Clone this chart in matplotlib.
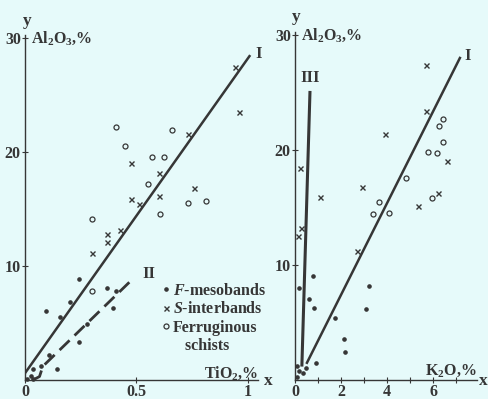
import numpy as np
import matplotlib
matplotlib.use('Agg')
from matplotlib import pyplot as plt
from matplotlib.lines import Line2D

plt.rcParams['font.family'] = 'Liberation Serif'
plt.rcParams['font.weight'] = 'bold'
plt.rcParams['mathtext.fontset'] = 'custom'
plt.rcParams['mathtext.rm'] = 'Liberation Serif:bold'
plt.rcParams['mathtext.it'] = 'Liberation Serif:italic:bold'
plt.rcParams['mathtext.bf'] = 'Liberation Serif:bold'

# --- left panel: TiO2 vs Al2O3 ---
ti_f_x = [0.008, 0.026, 0.035, 0.035, 0.072, 0.094, 0.108, 0.142, 0.157, 0.20, 0.24, 0.24, 0.28, 0.37, 0.395, 0.41]
ti_f_y = [0.1, 0.35, 0.1, 1.0, 1.2, 6.05, 2.2, 1.0, 5.5, 6.8, 8.9, 3.3, 4.9, 8.1, 6.3, 7.8]
ti_s_x = [0.30, 0.37, 0.37, 0.425, 0.475, 0.475, 0.51, 0.60, 0.60, 0.73, 0.76, 0.94, 0.96]
ti_s_y = [11.1, 12.1, 12.8, 13.2, 19.0, 15.9, 15.4, 18.2, 16.1, 21.6, 16.8, 27.5, 23.5]
ti_c_x = [0.30, 0.30, 0.41, 0.45, 0.55, 0.57, 0.605, 0.625, 0.66, 0.73, 0.81]
ti_c_y = [14.1, 7.8, 22.2, 20.5, 17.2, 19.6, 14.6, 19.6, 21.9, 15.5, 15.7]
line1_ti_x = [0.0, 1.01]
line1_ti_y = [0.6, 28.5]
line2_ti_x = [0.035, 0.065, 0.08, 0.485]
line2_ti_y = [0.0, 0.3, 1.2, 8.9]

# --- right panel: K2O vs Al2O3 ---
k_f_x = [0.1, 0.18, 0.1, 0.35, 0.48, 0.9, 0.17, 0.6, 0.78, 0.83, 1.74, 2.13, 2.17, 3.08, 3.2]
k_f_y = [1.2, 0.8, 0.3, 0.6, 1.0, 1.5, 8.0, 7.0, 9.0, 6.3, 5.4, 3.6, 2.4, 6.2, 8.2]
k_s_x = [0.15, 0.26, 0.22, 1.09, 2.7, 2.9, 3.9, 5.35, 5.7, 5.7, 6.2, 6.6]
k_s_y = [12.5, 13.2, 18.4, 15.9, 11.2, 16.8, 21.4, 15.1, 23.4, 27.4, 16.3, 19.0]
k_c_x = [3.4, 3.65, 4.1, 4.83, 5.78, 5.96, 6.17, 6.26, 6.43, 6.43]
k_c_y = [14.4, 15.5, 14.5, 17.6, 19.8, 15.8, 19.7, 22.1, 20.7, 22.7]
line1_k_x = [0.52, 7.17]
line1_k_y = [1.5, 28.0]
line3_k_x = [0.3, 0.65]
line3_k_y = [1.3, 25.0]

legend_labels = ['$F$-mesobands', '$S$-interbands', 'Ferruginous', '   schists']

bg = '#e6fafa'
ink = '#363636'
fs = 11.5

fig = plt.figure(figsize=(4.89, 3.99), dpi=100, facecolor=bg)
ax1 = fig.add_axes([25 / 489, 19 / 399, 233 / 489, 345.4 / 399])
ax2 = fig.add_axes([295 / 489, 19 / 399, 181.7 / 489, 348.5 / 399])


def style(ax):
    ax.set_facecolor(bg)
    for s in ['top', 'right']:
        ax.spines[s].set_visible(False)
    for s in ['left', 'bottom']:
        ax.spines[s].set_color(ink)
        ax.spines[s].set_linewidth(1.0)
    ax.tick_params(direction='inout', length=4, width=0.8, colors=ink,
                   labelsize=fs, pad=1)
    for lab in ax.get_xticklabels() + ax.get_yticklabels():
        lab.set_fontweight('bold')


def points(ax, fx, fy, sx, sy, cx, cy):
    ax.plot(fx, fy, 'o', ms=2.3, color=ink, clip_on=False)
    ax.plot(sx, sy, 'x', ms=3.6, mew=1.0, color=ink, clip_on=False)
    ax.plot(cx, cy, 'o', ms=3.6, mew=0.9, mfc='none', mec=ink, clip_on=False)


# left
points(ax1, ti_f_x, ti_f_y, ti_s_x, ti_s_y, ti_c_x, ti_c_y)
ax1.plot(line1_ti_x, line1_ti_y, color=ink, lw=1.8, solid_capstyle='butt')
ax1.plot(line2_ti_x, line2_ti_y, color=ink, lw=2.0, dashes=(5, 2.5))
ax1.set_xlim(0, 1.045)
ax1.set_ylim(0, 30.3)
ax1.set_xticks([0, 0.5, 1])
ax1.set_xticklabels(['0', '0.5', '1'])
ax1.set_yticks([10, 20, 30])
style(ax1)
ax1.text(0.01, 31.5, 'y', ha='center', va='center', fontsize=12.5, color=ink, clip_on=False)
ax1.text(0.027, 30.0, 'Al$_2$O$_3$,%', ha='left', va='center', fontsize=fs, color=ink)
ax1.text(1.035, 28.6, 'I', ha='left', va='center', fontsize=12, color=ink, clip_on=False)
ax1.text(0.525, 9.3, 'II', ha='left', va='center', fontsize=12, color=ink)
ax1.text(1.045, 0.6, 'TiO$_2$,%', ha='right', va='center', fontsize=fs, color=ink, clip_on=False)
ax1.text(1.09, -0.1, 'x', ha='center', va='center', fontsize=12.5, color=ink, clip_on=False)

handles = [Line2D([], [], ls='none', marker='o', ms=2.3, color=ink),
           Line2D([], [], ls='none', marker='x', ms=3.6, mew=1.0, color=ink),
           Line2D([], [], ls='none', marker='o', ms=3.6, mew=0.9, mfc='none', mec=ink),
           Line2D([], [], ls='none', marker='none')]
leg = ax1.legend(handles, legend_labels, loc='upper left', bbox_to_anchor=(0.59, 0.281),
                 frameon=False, fontsize=fs, handlelength=0.4, handletextpad=0.25,
                 labelspacing=0.15, borderpad=0, borderaxespad=0)
for t in leg.get_texts():
    t.set_color(ink)

# right
points(ax2, k_f_x, k_f_y, k_s_x, k_s_y, k_c_x, k_c_y)
ax2.plot(line1_k_x, line1_k_y, color=ink, lw=1.8)
ax2.plot(line3_k_x, line3_k_y, color=ink, lw=2.2)
ax2.set_xlim(0, 7.9)
ax2.set_ylim(0, 30.3)
ax2.set_xticks([0, 2, 4, 6])
ax2.set_xticks([1, 3, 5, 7], minor=True)
ax2.set_yticks([10, 20, 30])
style(ax2)
ax2.tick_params(which='minor', direction='inout', length=4, width=0.8, colors=ink)
ax2.text(0.05, 31.6, 'y', ha='center', va='center', fontsize=12.5, color=ink, clip_on=False)
ax2.text(0.25, 30.0, 'Al$_2$O$_3$,%', ha='left', va='center', fontsize=fs, color=ink)
ax2.text(7.35, 28.2, 'I', ha='left', va='center', fontsize=12, color=ink, clip_on=False)
ax2.text(0.65, 26.3, 'III', ha='center', va='center', fontsize=12, color=ink)
ax2.text(7.9, 0.8, 'K$_2$O,%', ha='right', va='center', fontsize=fs, color=ink, clip_on=False)
ax2.text(8.2, -0.1, 'x', ha='center', va='center', fontsize=12.5, color=ink, clip_on=False)

fig.savefig('out.png', dpi=100, facecolor=bg)
